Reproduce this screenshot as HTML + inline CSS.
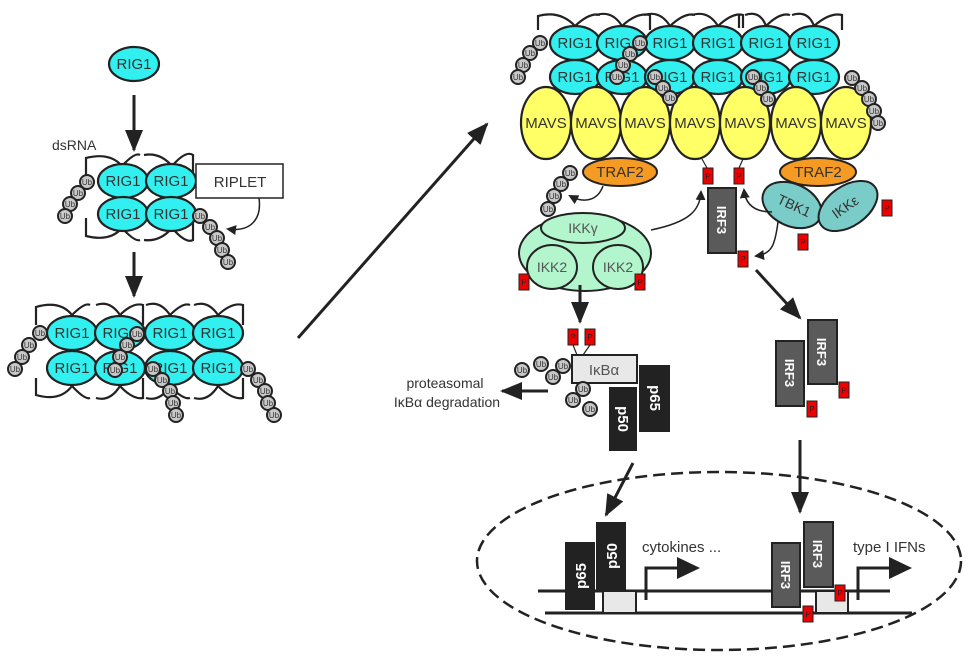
<!DOCTYPE html>
<html><head><meta charset="utf-8"><style>
html,body{margin:0;padding:0;background:#fff}
svg{display:block}
text{font-family:"Liberation Sans",sans-serif}
</style></head><body>
<svg width="974" height="659" viewBox="0 0 974 659" xmlns="http://www.w3.org/2000/svg">
<defs>
<marker id="ah" markerWidth="10" markerHeight="10" refX="8" refY="5" orient="auto" markerUnits="userSpaceOnUse"><path d="M0,0 L10,5 L0,10 z" fill="#222"/></marker>
<marker id="AH" markerWidth="22" markerHeight="18" refX="20" refY="9" orient="auto" markerUnits="userSpaceOnUse"><path d="M0,0 L22,9 L0,18 z" fill="#222"/></marker>
<g id="ub"><circle r="7" fill="#c8c8c8" stroke="#222" stroke-width="2"/><text y="3" font-size="8" text-anchor="middle" fill="#333">Ub</text></g>
<g id="rig"><ellipse rx="25" ry="17" fill="#33f0f0" stroke="#222" stroke-width="2.2"/><text y="5" font-size="15" text-anchor="middle" fill="#333">RIG1</text></g>
<g id="mavs"><ellipse rx="25" ry="36" fill="#ffff66" stroke="#222" stroke-width="2.2"/><text y="5" font-size="15" text-anchor="middle" fill="#333">MAVS</text></g>
<g id="p"><rect x="-5" y="-8" width="10" height="16" fill="#e00" stroke="#222" stroke-width="1"/><text y="3" font-size="8" text-anchor="middle" fill="#222">P</text></g>
</defs>

<use href="#rig" x="134" y="64"/>
<line x1="134" y1="95" x2="134" y2="150" stroke="#222" stroke-width="3" marker-end="url(#AH)"/>
<text x="52" y="150" font-size="14" fill="#333">dsRNA</text>

<g fill="none" stroke="#222" stroke-width="2.2">
<path d="M86,175 V158 Q110,152 122,166 M122,166 Q135,152 140,155"/>
<path d="M144,155 Q160,152 172,166 Q186,150 193,155 V175"/>
<path d="M86,218 V236 Q110,242 122,228 Q135,242 140,240"/>
<path d="M144,240 Q160,242 172,228 Q186,244 193,240 V218"/>
</g>
<use href="#rig" x="123" y="181"/><use href="#rig" x="171" y="181"/>
<use href="#rig" x="123" y="214"/><use href="#rig" x="171" y="214"/>
<rect x="196" y="164" width="87" height="34" fill="#fff" stroke="#222" stroke-width="1.5"/>
<text x="240" y="187" font-size="15" text-anchor="middle" fill="#333">RIPLET</text>
<path d="M259,198 C262,220 250,232 228,229" fill="none" stroke="#222" stroke-width="1.5" marker-end="url(#ah)"/>
<use href="#ub" x="87" y="182"/><use href="#ub" x="78" y="193"/><use href="#ub" x="70" y="204"/><use href="#ub" x="65" y="216"/>
<use href="#ub" x="200" y="216"/><use href="#ub" x="210" y="227"/><use href="#ub" x="217" y="238"/><use href="#ub" x="222" y="250"/><use href="#ub" x="228" y="262"/>

<line x1="134" y1="252" x2="134" y2="296" stroke="#222" stroke-width="3" marker-end="url(#AH)"/>

<g fill="none" stroke="#222" stroke-width="2.2">
<path d="M36,325 V307 Q60,300 72,315 Q85,302 90,305"/>
<path d="M96,305 Q110,300 120,315 Q133,302 143,305 V325"/>
<path d="M146,305 Q160,300 170,315 Q183,302 190,305"/>
<path d="M194,305 Q208,300 218,315 Q232,302 243,305 V325"/>
<path d="M36,378 V395 Q60,402 72,386 Q85,400 90,398"/>
<path d="M96,398 Q110,402 120,386 Q133,400 143,398 V378"/>
<path d="M146,398 Q160,402 170,386 Q183,400 190,398"/>
<path d="M194,398 Q208,402 218,386 Q232,400 243,398 V378"/>
</g>
<use href="#rig" x="72" y="333"/><use href="#rig" x="120" y="333"/><use href="#rig" x="170" y="333"/><use href="#rig" x="218" y="333"/>
<use href="#rig" x="72" y="368"/><use href="#rig" x="120" y="368"/><use href="#rig" x="170" y="368"/><use href="#rig" x="218" y="368"/>
<use href="#ub" x="40" y="333"/><use href="#ub" x="29" y="345"/><use href="#ub" x="22" y="357"/><use href="#ub" x="15" y="369"/>
<use href="#ub" x="137" y="334"/><use href="#ub" x="127" y="345"/><use href="#ub" x="120" y="357"/><use href="#ub" x="115" y="370"/>
<use href="#ub" x="153" y="369"/><use href="#ub" x="162" y="380"/><use href="#ub" x="170" y="391"/><use href="#ub" x="173" y="403"/><use href="#ub" x="176" y="415"/>
<use href="#ub" x="248" y="369"/><use href="#ub" x="258" y="380"/><use href="#ub" x="265" y="391"/><use href="#ub" x="268" y="403"/><use href="#ub" x="274" y="415"/>

<line x1="298" y1="338" x2="487" y2="124" stroke="#222" stroke-width="3" marker-end="url(#AH)"/>

<g fill="none" stroke="#222" stroke-width="2.2">
<path d="M538,30 V16 Q560,10 575,26 Q590,12 600,15"/>
<path d="M596,15 Q612,10 622,26 Q637,12 650,15 V30"/>
<path d="M644,15 Q660,10 670,26 Q685,12 695,15"/>
<path d="M692,15 Q708,10 718,26 Q733,12 743,15 V28 M739,15 V28"/>
<path d="M745,15 Q760,10 766,26 Q780,12 790,15"/>
<path d="M792,15 Q808,10 814,26 Q830,12 842,15 V30"/>
</g>
<use href="#rig" x="575" y="43"/><use href="#rig" x="622" y="43"/><use href="#rig" x="670" y="43"/><use href="#rig" x="718" y="43"/><use href="#rig" x="766" y="43"/><use href="#rig" x="814" y="43"/>
<use href="#rig" x="575" y="77"/><use href="#rig" x="622" y="77"/><use href="#rig" x="670" y="77"/><use href="#rig" x="718" y="77"/><use href="#rig" x="766" y="77"/><use href="#rig" x="814" y="77"/>
<use href="#mavs" x="546" y="123"/><use href="#mavs" x="596" y="123"/><use href="#mavs" x="645" y="123"/><use href="#mavs" x="695" y="123"/><use href="#mavs" x="745" y="123"/><use href="#mavs" x="796" y="123"/><use href="#mavs" x="846" y="123"/>
<use href="#ub" x="540" y="43"/><use href="#ub" x="530" y="53"/><use href="#ub" x="523" y="65"/><use href="#ub" x="518" y="77"/>
<use href="#ub" x="640" y="43"/><use href="#ub" x="630" y="54"/><use href="#ub" x="623" y="65"/><use href="#ub" x="617" y="77"/>
<use href="#ub" x="655" y="77"/><use href="#ub" x="663" y="88"/><use href="#ub" x="670" y="98"/>
<use href="#ub" x="753" y="77"/><use href="#ub" x="761" y="88"/><use href="#ub" x="768" y="99"/>
<use href="#ub" x="852" y="78"/><use href="#ub" x="862" y="88"/><use href="#ub" x="869" y="99"/><use href="#ub" x="874" y="111"/><use href="#ub" x="878" y="123"/>

<ellipse cx="620" cy="172" rx="37" ry="14" fill="#f59a22" stroke="#222" stroke-width="2"/>
<text x="620" y="177" font-size="15" text-anchor="middle" fill="#333">TRAF2</text>
<use href="#ub" x="570" y="173"/><use href="#ub" x="561" y="184"/><use href="#ub" x="554" y="196"/><use href="#ub" x="548" y="209"/>
<path d="M603,186 C598,200 585,204 570,196" fill="none" stroke="#222" stroke-width="1.5" marker-end="url(#ah)"/>

<ellipse cx="585" cy="253" rx="66" ry="38" fill="#b3f5cc" stroke="#222" stroke-width="2"/>
<ellipse cx="583" cy="228" rx="42" ry="15" fill="#b3f5cc" stroke="#222" stroke-width="2"/>
<text x="583" y="233" font-size="14" text-anchor="middle" fill="#555">IKKγ</text>
<ellipse cx="552" cy="267" rx="25" ry="22" fill="#b3f5cc" stroke="#222" stroke-width="2"/>
<text x="552" y="272" font-size="14" text-anchor="middle" fill="#555">IKK2</text>
<ellipse cx="618" cy="267" rx="25" ry="22" fill="#b3f5cc" stroke="#222" stroke-width="2"/>
<text x="618" y="272" font-size="14" text-anchor="middle" fill="#555">IKK2</text>
<use href="#p" x="524" y="282"/><use href="#p" x="640" y="282"/>
<path d="M651,230 C690,222 700,210 701,192" fill="none" stroke="#222" stroke-width="1.5" marker-end="url(#ah)"/>

<line x1="702" y1="159" x2="707" y2="168" stroke="#222" stroke-width="1.2"/>
<line x1="743" y1="159" x2="739" y2="168" stroke="#222" stroke-width="1.2"/>
<use href="#p" x="708" y="176"/><use href="#p" x="739" y="176"/>

<rect x="708" y="188" width="28" height="65" fill="#5a5a5a" stroke="#222" stroke-width="2"/>
<text transform="translate(717,220) rotate(90)" font-size="13" font-weight="bold" text-anchor="middle" fill="#fff">IRF3</text>
<use href="#p" x="743" y="259"/>

<ellipse cx="818" cy="172" rx="38" ry="14" fill="#f59a22" stroke="#222" stroke-width="2"/>
<text x="818" y="177" font-size="15" text-anchor="middle" fill="#333">TRAF2</text>
<ellipse cx="792" cy="205" rx="31" ry="21" transform="rotate(25 792 205)" fill="#7accc8" stroke="#222" stroke-width="2"/>
<text transform="translate(792,210) rotate(25)" font-size="14" text-anchor="middle" fill="#333">TBK1</text>
<ellipse cx="848" cy="206" rx="33" ry="20" transform="rotate(-35 848 206)" fill="#7accc8" stroke="#222" stroke-width="2"/>
<text transform="translate(848,211) rotate(-35)" font-size="14" text-anchor="middle" fill="#333">IKKε</text>
<use href="#p" x="887" y="208"/><use href="#p" x="803" y="242"/>
<path d="M772,212 C750,212 745,200 744,190" fill="none" stroke="#222" stroke-width="1.5" marker-end="url(#ah)"/>
<path d="M778,222 C775,245 772,254 756,256" fill="none" stroke="#222" stroke-width="1.5" marker-end="url(#ah)"/>

<line x1="580" y1="285" x2="580" y2="322" stroke="#222" stroke-width="3" marker-end="url(#AH)"/>
<line x1="756" y1="270" x2="800" y2="318" stroke="#222" stroke-width="3" marker-end="url(#AH)"/>

<line x1="573" y1="345" x2="577" y2="355" stroke="#222" stroke-width="1.2"/>
<line x1="590" y1="345" x2="583" y2="355" stroke="#222" stroke-width="1.2"/>
<use href="#p" x="573" y="337"/><use href="#p" x="590" y="337"/>
<rect x="572" y="355" width="65" height="28" fill="#e8e8e8" stroke="#222" stroke-width="2"/>
<text x="604" y="375" font-size="15" text-anchor="middle" fill="#555">IκBα</text>
<use href="#ub" x="522" y="370"/><use href="#ub" x="541" y="364"/><use href="#ub" x="563" y="366"/><use href="#ub" x="553" y="377"/>
<use href="#ub" x="583" y="389"/><use href="#ub" x="573" y="400"/><use href="#ub" x="590" y="409"/>
<rect x="639" y="365" width="31" height="67" fill="#222"/>
<text transform="translate(650,398) rotate(90)" font-size="15" font-weight="bold" text-anchor="middle" fill="#fff">p65</text>
<rect x="609" y="387" width="28" height="64" fill="#222"/>
<text transform="translate(618,419) rotate(90)" font-size="15" font-weight="bold" text-anchor="middle" fill="#fff">p50</text>
<line x1="548" y1="391" x2="502" y2="391" stroke="#222" stroke-width="3" marker-end="url(#AH)"/>
<text x="445" y="388" font-size="14" text-anchor="middle" fill="#333">proteasomal</text>
<text x="447" y="407" font-size="14" text-anchor="middle" fill="#333">IκBα degradation</text>

<rect x="776" y="341" width="28" height="65" fill="#5a5a5a" stroke="#222" stroke-width="2"/>
<text transform="translate(785,373) rotate(90)" font-size="13" font-weight="bold" text-anchor="middle" fill="#fff">IRF3</text>
<rect x="808" y="320" width="29" height="64" fill="#5a5a5a" stroke="#222" stroke-width="2"/>
<text transform="translate(817,352) rotate(90)" font-size="13" font-weight="bold" text-anchor="middle" fill="#fff">IRF3</text>
<use href="#p" x="812" y="409"/><use href="#p" x="844" y="390"/>

<line x1="800" y1="440" x2="800" y2="512" stroke="#222" stroke-width="3" marker-end="url(#AH)"/>
<line x1="633" y1="463" x2="606" y2="515" stroke="#222" stroke-width="3" marker-end="url(#AH)"/>

<ellipse cx="719" cy="561" rx="242" ry="89" fill="none" stroke="#222" stroke-width="2.5" stroke-dasharray="12,6"/>
<line x1="538" y1="591" x2="890" y2="591" stroke="#222" stroke-width="3"/>
<line x1="545" y1="613" x2="912" y2="613" stroke="#222" stroke-width="3"/>
<rect x="603" y="591" width="33" height="22" fill="#e8e8e8" stroke="#222" stroke-width="2"/>
<rect x="565" y="542" width="30" height="68" fill="#222"/>
<text transform="translate(586,576) rotate(-90)" font-size="15" font-weight="bold" text-anchor="middle" fill="#fff">p65</text>
<rect x="596" y="522" width="30" height="69" fill="#222"/>
<text transform="translate(617,556) rotate(-90)" font-size="15" font-weight="bold" text-anchor="middle" fill="#fff">p50</text>
<path d="M646,600 V568 H680" fill="none" stroke="#222" stroke-width="3"/>
<path d="M677,557 L700,568 L677,579 z" fill="#222"/>
<text x="642" y="552" font-size="15" fill="#333">cytokines ...</text>

<rect x="816" y="591" width="32" height="22" fill="#e8e8e8" stroke="#222" stroke-width="2"/>
<rect x="772" y="543" width="28" height="64" fill="#5a5a5a" stroke="#222" stroke-width="2"/>
<text transform="translate(781,575) rotate(90)" font-size="13" font-weight="bold" text-anchor="middle" fill="#fff">IRF3</text>
<rect x="804" y="522" width="29" height="65" fill="#5a5a5a" stroke="#222" stroke-width="2"/>
<text transform="translate(813,554) rotate(90)" font-size="13" font-weight="bold" text-anchor="middle" fill="#fff">IRF3</text>
<use href="#p" x="808" y="614"/><use href="#p" x="840" y="593"/>
<path d="M858,600 V568 H892" fill="none" stroke="#222" stroke-width="3"/>
<path d="M889,557 L912,568 L889,579 z" fill="#222"/>
<text x="853" y="552" font-size="15" fill="#333">type I IFNs</text>
</svg>
</body></html>
